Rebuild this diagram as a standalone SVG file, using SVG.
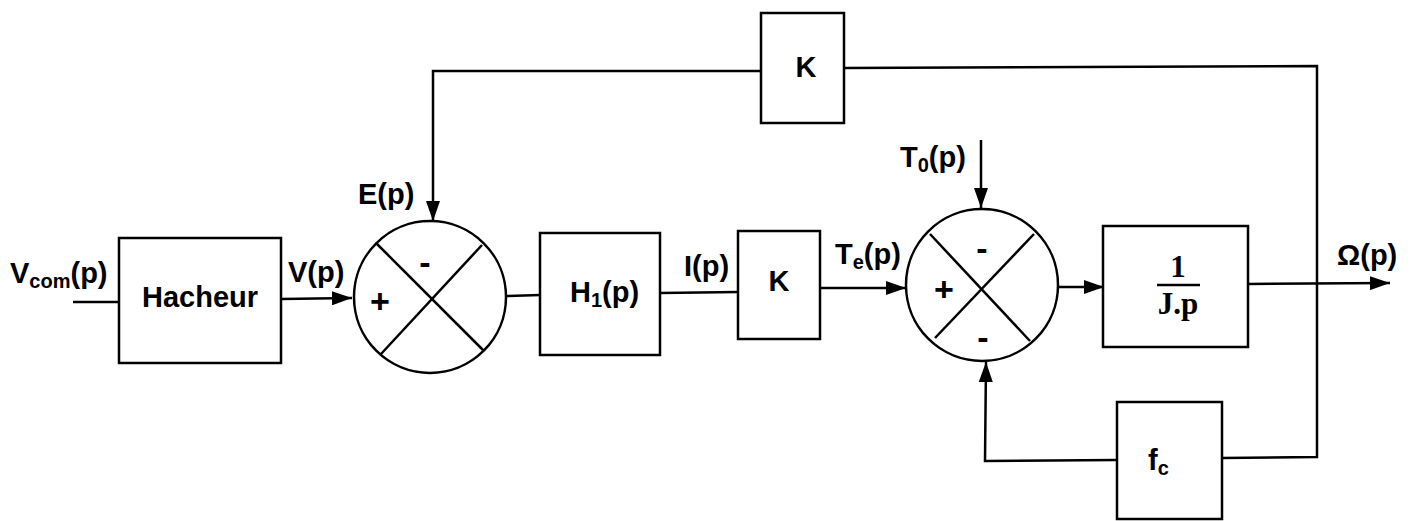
<svg xmlns="http://www.w3.org/2000/svg" width="1415" height="521" viewBox="0 0 1415 521">
<defs>
<marker id="ah" markerWidth="20" markerHeight="14" refX="20" refY="7" orient="auto" markerUnits="userSpaceOnUse">
<path d="M0,0 L20,7 L0,14 Z" fill="#000"/>
</marker>
<style>
.b{fill:#fff;stroke:#000;stroke-width:2.5}
.w{fill:none;stroke:#000;stroke-width:2.5}
.t{font-family:"Liberation Sans",Arial,sans-serif;font-weight:bold;font-size:29px;fill:#000}
.s{font-family:"Liberation Sans",Arial,sans-serif;font-weight:bold;font-size:20px;fill:#000}
.g{font-family:"Liberation Sans",Arial,sans-serif;font-weight:bold;font-size:34px;fill:#000}
.r{font-family:"Liberation Serif","Times New Roman",serif;font-weight:bold;font-size:31px;fill:#000}
</style>
</defs>
<rect width="1415" height="521" fill="#fff"/>
<g id="connectors">
<line class="w" x1="73" y1="302" x2="119" y2="302"/>
<line class="w" x1="281" y1="299" x2="352" y2="298" marker-end="url(#ah)"/>
<polyline class="w" points="768,71 433,71 433,221" marker-end="url(#ah)"/>
<line class="w" x1="506" y1="296" x2="540" y2="295"/>
<line class="w" x1="660" y1="293" x2="738" y2="292"/>
<line class="w" x1="820" y1="288" x2="906" y2="288" marker-end="url(#ah)"/>
<line class="w" x1="981" y1="140" x2="981" y2="208" marker-end="url(#ah)"/>
<line class="w" x1="1058" y1="287" x2="1104" y2="287" marker-end="url(#ah)"/>
<line class="w" x1="1248" y1="284" x2="1390" y2="283" marker-end="url(#ah)"/>
<polyline class="w" points="844,68 1317,66 1317,457 1222,458"/>
<polyline class="w" points="1117,460 985,461 986,362" marker-end="url(#ah)"/>
</g>
<g id="hacheur">
<rect class="b" x="119" y="238" width="162" height="125"/>
<text class="t" x="200" y="307" text-anchor="middle">Hacheur</text>
</g>
<g id="sum1">
<circle class="b" cx="430" cy="297" r="76"/>
<line class="w" x1="376" y1="243" x2="484" y2="351"/>
<line class="w" x1="482" y1="245" x2="381" y2="354"/>
<text class="g" x="425" y="274" text-anchor="middle">-</text>
<text class="g" x="380" y="313" text-anchor="middle">+</text>
</g>
<g id="h1">
<rect class="b" x="540" y="233" width="120" height="122"/>
<text class="t" x="570" y="302">H<tspan class="s" dy="5">1</tspan><tspan dy="-5">(p)</tspan></text>
</g>
<g id="k1">
<rect class="b" x="738" y="231" width="82" height="108"/>
<text class="t" x="779" y="291" text-anchor="middle">K</text>
</g>
<g id="sum2">
<circle class="b" cx="982" cy="285" r="76"/>
<line class="w" x1="930" y1="234" x2="1030" y2="341"/>
<line class="w" x1="1034" y1="234" x2="935" y2="338"/>
<text class="g" x="982" y="260" text-anchor="middle">-</text>
<text class="g" x="944" y="301" text-anchor="middle">+</text>
<text class="g" x="983" y="349" text-anchor="middle">-</text>
</g>
<g id="integ">
<rect class="b" x="1103" y="226" width="145" height="121"/>
<text class="r" x="1178" y="277" text-anchor="middle">1</text>
<line class="w" x1="1157" y1="285" x2="1200" y2="285" stroke-width="2"/>
<text class="r" x="1178" y="314" text-anchor="middle">J.p</text>
</g>
<g id="k2">
<rect class="b" x="761" y="13" width="83" height="110"/>
<text class="t" x="806" y="77" text-anchor="middle">K</text>
</g>
<g id="fc">
<rect class="b" x="1117" y="402" width="105" height="117"/>
<text class="t" x="1148" y="470">f<tspan class="s" dy="5">c</tspan></text>
</g>
<g id="labels">
<text class="t" x="10" y="283">V<tspan class="s" dy="5">com</tspan><tspan dy="-5">(p)</tspan></text>
<text class="t" x="288" y="282">V(p)</text>
<text class="t" x="358" y="204">E(p)</text>
<text class="t" x="684" y="276">I(p)</text>
<text class="t" x="835" y="264">T<tspan class="s" dy="5">e</tspan><tspan dy="-5">(p)</tspan></text>
<text class="t" x="900" y="167">T<tspan class="s" dy="5">0</tspan><tspan dy="-5">(p)</tspan></text>
<text class="t" x="1337" y="265">Ω(p)</text>
</g>
</svg>
